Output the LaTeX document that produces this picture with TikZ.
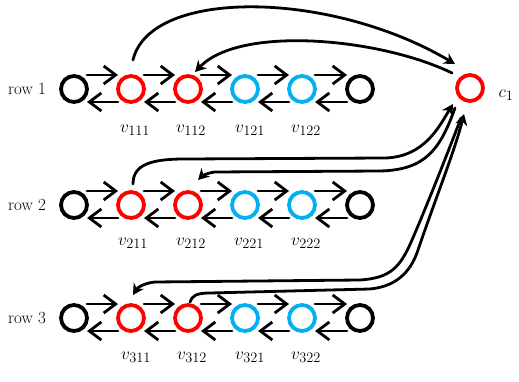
\documentclass[tikz,border=0pt]{standalone}
\usetikzlibrary{arrows.meta,calc}
\definecolor{cred}{RGB}{255,0,0}
\definecolor{cblue}{RGB}{0,176,240}
\begin{document}
\begin{tikzpicture}[x=1pt,y=-1pt,line cap=round,line join=round,
  vert/.style={circle,draw,line width=3.8pt,minimum size=26pt,inner sep=0pt,outer sep=0pt},
  rv/.style={vert,draw=cred},
  bv/.style={vert,draw=cblue},
  kv/.style={vert,draw=black},
  flow/.style={line width=2.8pt,-{Straight Barb[length=12pt,width=18pt]}},
  link/.style={line width=2.8pt,-{Stealth[length=11pt,width=12pt]}},
  lab/.style={font=\fontsize{19}{22}\selectfont},
  rowlab/.style={font=\fontsize{17}{20}\selectfont}]
\useasboundingbox (0,0) rectangle (519,382);
\foreach \r/\y in {1/89,2/205,3/318} {
  \node[kv] (n\r-0) at (74,\y) {};
  \node[rv] (n\r-1) at (131,\y) {};
  \node[rv] (n\r-2) at (188,\y) {};
  \node[bv] (n\r-3) at (245,\y) {};
  \node[bv] (n\r-4) at (302,\y) {};
  \node[kv] (n\r-5) at (360,\y) {};
  \node[rowlab] (row\r) at (27,\y) {row \r};
  \foreach \i/\j in {0/1,1/2,2/3,3/4,4/5} {
    \draw[flow] ([yshift=14pt]n\r-\i.east) -- ([yshift=14pt]n\r-\j.west);
    \draw[flow] ([yshift=-13pt]n\r-\j.west) -- ([yshift=-13pt]n\r-\i.east);
  }
}
\node[rv] (c1) at (470,88) {};
\node[lab] (c1lab) at (506,95) {$c_1$};
% vertex labels
\node[lab] (l111) at (135,130) {$v_{111}$};
\node[lab] (l112) at (191,130) {$v_{112}$};
\node[lab] (l121) at (250,130) {$v_{121}$};
\node[lab] (l122) at (306,130) {$v_{122}$};
\node[lab] (l211) at (133,243) {$v_{211}$};
\node[lab] (l212) at (191,243) {$v_{212}$};
\node[lab] (l221) at (249,243) {$v_{221}$};
\node[lab] (l222) at (306,243) {$v_{222}$};
\node[lab] (l311) at (136,357) {$v_{311}$};
\node[lab] (l312) at (192,357) {$v_{312}$};
\node[lab] (l321) at (250,357) {$v_{321}$};
\node[lab] (l322) at (306,357) {$v_{322}$};
% curved connectors
\draw[link] ($(n1-1)+(2,-29)$) .. controls (150,-12) and (330,-10) .. ($(c1)+(-15,-24)$);
\draw[link] ($(c1)+(-18,-15)$) .. controls (380,38) and (240,25) .. ($(n1-2)+(7,-17)$);
\draw[link] ($(n2-1)+(2,-21)$) .. controls (133,165) and (150,159) .. (185,159) -- (385,158) .. controls (425,157) and (440,125) .. ($(c1)+(-17,16)$);
\draw[link] ($(c1)+(-15,20)$) .. controls (440,150) and (425,170) .. (380,171) -- (215,172) .. controls (207,173) and (202,176) .. ($(n2-2)+(10,-25)$);
\draw[link] ($(c1)+(-9,30)$) .. controls (445,160) and (425,210) .. (412,240) .. controls (400,268) and (390,278) .. (360,280) -- (155,282) .. controls (145,283) and (138,287) .. ($(n3-1)+(2,-23)$);
\draw[link] ($(n3-2)+(2,-16)$) .. controls (192,296) and (196,293) .. (210,293) -- (370,289) .. controls (400,286) and (412,268) .. (418,250) .. controls (435,200) and (455,150) .. ($(c1)+(-6,26)$);
\end{tikzpicture}
\end{document}
